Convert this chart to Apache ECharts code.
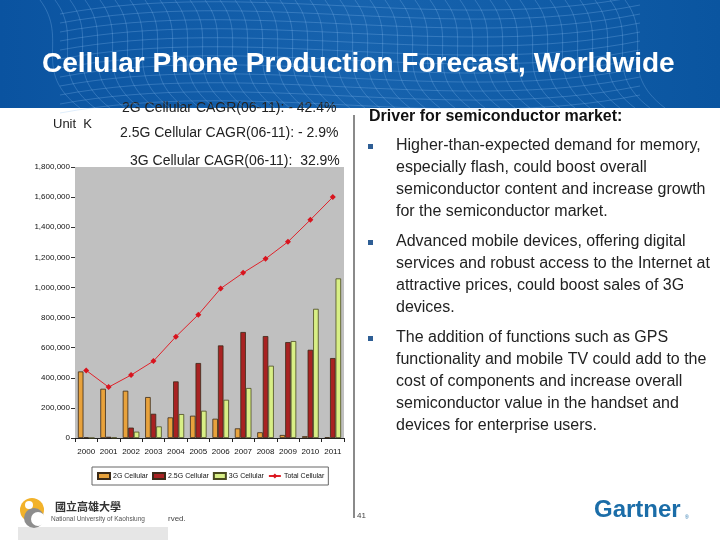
<!DOCTYPE html>
<html>
<head>
<meta charset="utf-8">
<script src="https://cdn.jsdelivr.net/npm/echarts@6/dist/echarts.min.js"></script>
<style>html,body{margin:0;padding:0;background:#fff;}#c{width:720px;height:540px;}</style>
</head>
<body>
<div id="c"></div>
<script>
var years = ['2000','2001','2002','2003','2004','2005','2006','2007','2008','2009','2010','2011'];
var cell2G = [442000, 327000, 314000, 272000, 137000, 148000, 128000, 64000, 38000, 20000, 12000, 5000];
var cell25G = [5000, 8000, 69000, 161000, 376000, 498000, 615000, 704000, 677000, 637000, 586000, 531000];
var cell3G = [0, 2000, 42000, 77000, 159000, 181000, 254000, 332000, 480000, 644000, 858000, 1060000];
var totalCell = [449000, 338000, 418000, 511000, 673000, 819000, 993000, 1097000, 1190000, 1303000, 1449000, 1600000];
var seriesNames = ['2G Cellular', '2.5G Cellular', '3G Cellular', 'Total Cellular'];
var titleText = 'Cellular Phone Production Forecast, Worldwide';
var cagrLines = ['2G Cellular CAGR(06-11): - 42.4%', '2.5G Cellular CAGR(06-11): - 2.9%', '3G Cellular CAGR(06-11):  32.9%'];
var driverHeading = 'Driver for semiconductor market:';
var bullets = [
  ['Higher-than-expected demand for memory,', 'especially flash, could boost overall', 'semiconductor content and increase growth', 'for the semiconductor market.'],
  ['Advanced mobile devices, offering digital', 'services and robust access to the Internet at', 'attractive prices, could boost sales of 3G', 'devices.'],
  ['The addition of functions such as GPS', 'functionality and mobile TV could add to the', 'cost of components and increase overall', 'semiconductor value in the handset and', 'devices for enterprise users.']
];

var chart = echarts.init(document.getElementById('c'), null, {renderer: 'canvas'});
var FONT = '"Liberation Sans", Arial, sans-serif';

var graphics = [];
graphics.push({type:'rect', left:0, top:0, shape:{width:720, height:108}, silent:true, z:0,
  style:{fill:new echarts.graphic.LinearGradient(0,0,1,0,[{offset:0,color:'#0A53A0'},{offset:0.5,color:'#1763AE'},{offset:1,color:'#0A55A0'}])}});
for (var i = 0; i < 40; i++) {
  var x0 = 40 + i * 15;
  graphics.push({type:'bezierCurve', silent:true, z:1,
    shape:{x1:x0, y1:0, x2:x0 + 40, y2:108, cpx1:x0 + 30, cpy1:40, cpx2:x0 - 10, cpy2:70},
    style:{stroke:'rgba(140,190,240,0.28)', lineWidth:1, fill:null}});
}
for (var j = 0; j < 12; j++) {
  var y0 = 4 + j * 9;
  graphics.push({type:'bezierCurve', silent:true, z:1,
    shape:{x1:60, y1:y0 + 10, x2:640, y2:y0 - 8, cpx1:250, cpy1:y0 - 25, cpx2:450, cpy2:y0 + 30},
    style:{stroke:'rgba(140,190,240,0.28)', lineWidth:1, fill:null}});
}
graphics.push({type:'text', left:42, top:50, silent:true, z:5,
  style:{text:titleText, fill:'#fff', font:'bold 28px ' + FONT}});
graphics.push({type:'text', left:53, top:118, style:{text:'Unit  K', fill:'#222', font:'13px ' + FONT}});
graphics.push({type:'text', left:122, top:101, style:{text:cagrLines[0], fill:'#222', font:'14px ' + FONT}});
graphics.push({type:'text', left:120, top:126, style:{text:cagrLines[1], fill:'#222', font:'14px ' + FONT}});
graphics.push({type:'text', left:130, top:154, style:{text:cagrLines[2], fill:'#222', font:'14px ' + FONT}});
graphics.push({type:'rect', left:353, top:115, shape:{width:2, height:403}, style:{fill:'#8a8a8a'}});
graphics.push({type:'text', left:369, top:109, style:{text:driverHeading, fill:'#111', font:'bold 16px ' + FONT}});
var ty = 138;
bullets.forEach(function(b) {
  graphics.push({type:'rect', left:368, top:ty + 6, shape:{width:5, height:5}, style:{fill:'#2E5E95'}});
  b.forEach(function(line, li) {
    graphics.push({type:'text', left:396, top:ty + li * 22, style:{text:line, fill:'#222', font:'16px ' + FONT}});
  });
  ty += b.length * 22 + 8;
});
graphics.push({type:'rect', left:18, top:527, shape:{width:150, height:13}, style:{fill:'#e6e6e6'}});
graphics.push({type:'circle', shape:{cx:32, cy:510, r:12}, style:{fill:'#F2B22A'}});
graphics.push({type:'circle', shape:{cx:34, cy:518, r:10}, style:{fill:'#8d8d8d'}});
graphics.push({type:'circle', shape:{cx:38, cy:519, r:7}, style:{fill:'#ffffff'}});
graphics.push({type:'circle', shape:{cx:29, cy:505, r:4}, style:{fill:'#ffffff'}});
graphics.push({type:'text', left:55, top:501, style:{text:'國立高雄大學', fill:'#333', font:'bold 11px "Noto Sans CJK TC", sans-serif'}});
graphics.push({type:'text', left:51, top:516, style:{text:'National University of Kaohsiung', fill:'#555', font:'6.5px ' + FONT}});
graphics.push({type:'text', left:168, top:515, style:{text:'rved.', fill:'#444', font:'8px ' + FONT}});
graphics.push({type:'text', left:357, top:512, style:{text:'41', fill:'#444', font:'8px ' + FONT}});
graphics.push({type:'text', left:594, top:498, style:{text:'Gartner', fill:'#1B6DA8', font:'bold 24px ' + FONT}});
graphics.push({type:'text', left:685, top:515, style:{text:'®', fill:'#1B6DA8', font:'5px ' + FONT}});

var barBorder = {borderColor:'#3b2a18', borderWidth:0.8};
var option = {
  backgroundColor:'#ffffff',
  animation:false,
  textStyle:{fontFamily:FONT},
  grid:{left:75, top:167, width:269, height:271, show:true, backgroundColor:'#C0C0C0', borderWidth:0, containLabel:false},
  legend:{
    left:92, top:467, width:400, itemGap:4, itemWidth:12, itemHeight:6,
    borderColor:'#666', borderWidth:1, padding:[5,4,5,5],
    textStyle:{fontSize:7, color:'#111', fontFamily:FONT, padding:[0,0,0,-2]},
    data:[
      {name:seriesNames[0], icon:'rect'},
      {name:seriesNames[1], icon:'rect'},
      {name:seriesNames[2], icon:'rect'},
      {name:seriesNames[3]}
    ]
  },
  xAxis:{
    type:'category', data:years, boundaryGap:true,
    axisLine:{lineStyle:{color:'#222', width:1}},
    axisTick:{show:true, length:4, lineStyle:{color:'#222'}},
    axisLabel:{fontSize:8, color:'#111', margin:10, interval:0}
  },
  yAxis:{
    type:'value', min:0, max:1800000, interval:200000,
    axisLine:{show:false},
    axisTick:{show:true, length:4, lineStyle:{color:'#333'}},
    splitLine:{show:false},
    axisLabel:{fontSize:8, color:'#111', margin:5,
      formatter:function(v){ return v.toString().replace(/\B(?=(\d{3})+(?!\d))/g, ','); }}
  },
  series:[
    {name:seriesNames[0], type:'bar', data:cell2G, barGap:'0%', barCategoryGap:'26%',
      itemStyle:Object.assign({color:'#E8A23C'}, barBorder)},
    {name:seriesNames[1], type:'bar', data:cell25G,
      itemStyle:Object.assign({color:'#A82222'}, barBorder)},
    {name:seriesNames[2], type:'bar', data:cell3G,
      itemStyle:Object.assign({color:'#D8EF86'}, {borderColor:'#4a4a20', borderWidth:0.8})},
    {name:seriesNames[3], type:'line', data:totalCell, symbol:'diamond', symbolSize:6,
      lineStyle:{color:'#E0222A', width:1}, itemStyle:{color:'#D8141E'}, z:10}
  ],
  graphic:graphics
};
chart.setOption(option);
</script>
</body>
</html>
